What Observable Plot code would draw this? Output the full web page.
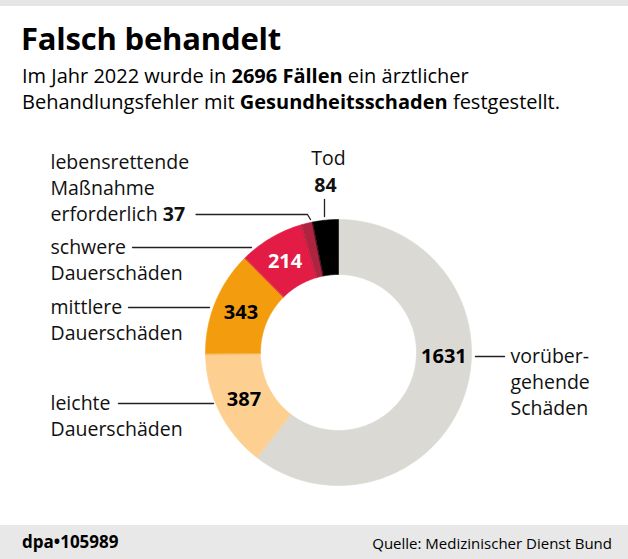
<!DOCTYPE html>
<html><head><meta charset="utf-8">
<script src="https://cdn.jsdelivr.net/npm/d3@7"></script>
<script src="https://cdn.jsdelivr.net/npm/@observablehq/plot@0.6"></script>
<style>
body{margin:0;width:628px;height:559px;overflow:hidden;background:#fff;font-family:"Open Sans",sans-serif;color:#000;position:relative}
#topbar{position:absolute;left:0;top:0;width:628px;height:6px;background:#e6e6e6}
#title{position:absolute;left:21px;top:18px;font-size:31px;font-weight:700;line-height:40px;white-space:nowrap;letter-spacing:-0.2px}
#subtitle{position:absolute;left:22px;top:63px;font-size:20px;line-height:26px;white-space:nowrap}
#chart{position:absolute;left:0;top:128px}
#footer{position:absolute;left:0;top:525px;width:628px;height:34px;background:#e8e8e8}
#dpa{position:absolute;left:22px;top:6px;font-size:17px;font-weight:700;line-height:22px}
#source{position:absolute;right:16px;top:7px;font-size:15px;line-height:22px}
</style></head><body>
<div id="topbar"></div>
<div id="title">Falsch behandelt</div>
<div id="subtitle">Im Jahr 2022 wurde in <b>2696 Fällen</b> ein ärztlicher<br>Behandlungsfehler mit <b>Gesundheitsschaden</b> festgestellt.</div>
<div id="chart"></div>
<div id="footer"><div id="dpa">dpa•105989</div><div id="source">Quelle: Medizinischer Dienst Bund</div></div>
<script>
// ---- data ----
const categories = ["vorübergehende Schäden", "leichte Dauerschäden", "mittlere Dauerschäden", "schwere Dauerschäden", "lebensrettende Maßnahme erforderlich", "Tod"];
const values = [1631, 387, 343, 214, 37, 84];
const colors = ["#dad9d4", "#fdd092", "#f39c0e", "#e31c45", "#ad2340", "#000000"];
const labelLines = [["vorüber-", "gehende", "Schäden"], ["leichte", "Dauerschäden"], ["mittlere", "Dauerschäden"], ["schwere", "Dauerschäden"], ["lebensrettende", "Maßnahme", "erforderlich"], ["Tod"]];
const insideLabel = [true, true, true, true, false, false];

// ---- layout (page coordinates) ----
const W = 628, H = 396, TOP = 128;
const CX = 338, CY = 352, R_OUT = 133, R_IN = 78;
const FONT = "'Open Sans', sans-serif";
const LABEL_SIZE = 19.5;
const px = (x) => x - CX, py = (y) => y - CY;

const total = d3.sum(values);
let acc = 0;
const segments = values.map((v, i) => {
  const a0 = acc / total * 360; acc += v; const a1 = acc / total * 360;
  return {cat: categories[i], value: v, a0, a1, i};
});
const rad = (a) => a * Math.PI / 180;
const pt = (r, a) => [r * Math.sin(rad(a)), -r * Math.cos(rad(a))];

const ring = segments.flatMap(s => {
  const n = Math.max(2, Math.ceil(s.a1 - s.a0));
  const out = [];
  for (let k = 0; k <= n; k++) { const [x, y] = pt(R_OUT, s.a0 + (s.a1 - s.a0) * k / n); out.push({cat: s.cat, x, y}); }
  for (let k = n; k >= 0; k--) { const [x, y] = pt(R_IN, s.a0 + (s.a1 - s.a0) * k / n); out.push({cat: s.cat, x, y}); }
  return out;
});

// value labels inside ring (first one placed at the right side, next to its leader)
const valueText = segments.filter(s => insideLabel[s.i]).map(s => {
  const a = s.i === 0 ? 92 : (s.a0 + s.a1) / 2;
  const [x, y] = pt((R_OUT + R_IN) / 2, a);
  return {x, y, text: String(s.value), fill: s.i === 3 ? "#fff" : "#000"};
});

// category label text anchors (page coords)
const labelPos = [
  {x: 510, y: 356}, {x: 50, y: 403}, {x: 50, y: 307}, {x: 50, y: 247}, {x: 50, y: 162}, {x: 328, y: 158.5}
];
const LH = 26;
const catText = labelLines.flatMap((lines, i) => lines.map((t, k) => ({
  x: px(labelPos[i].x), y: py(labelPos[i].y + k * LH), text: t, anchor: i === 5 ? "middle" : "start"
})));

// measure "erforderlich " to place the bold value after it
const ctx = document.createElement("canvas").getContext("2d");
ctx.font = `${LABEL_SIZE}px "Open Sans"`;
const wErf = ctx.measureText(labelLines[4][2] + " ").width;
const boldStart = [{x: px(50 + wErf), y: py(162 + 2 * LH), text: String(values[4])}];
const boldMid = [{x: px(325), y: py(185.5), text: String(values[5])}];
const leadStart = 50 + wErf + 2 + (() => { ctx.font = `700 ${LABEL_SIZE}px "Open Sans"`; return ctx.measureText(String(values[4])).width; })() + 9;

const leaders = [
  {id: 0, pts: [[475, 356], [504, 356]]},
  {id: 1, pts: [[118, 403], [213, 403]]},
  {id: 2, pts: [[128, 307], [209, 307]]},
  {id: 3, pts: [[132, 247], [251, 247]]},
  {id: 4, pts: [[leadStart, 214], [307, 214], [310, 219]]},
  {id: 5, pts: [[324, 199], [324, 216]]}
].flatMap(l => l.pts.map(([x, y]) => ({id: l.id, x: px(x), y: py(y)})));

const chart = Plot.plot({
  width: W, height: H, margin: 0,
  x: {domain: [-CX, W - CX], range: [0, W], axis: null},
  y: {domain: [TOP - CY, TOP + H - CY], range: [0, H], axis: null},
  color: {domain: categories, range: colors},
  style: {fontFamily: FONT, background: "transparent", overflow: "visible"},
  marks: [
    Plot.line(ring, {x: "x", y: "y", z: "cat", fill: "cat", stroke: "cat", strokeWidth: 0.6, curve: "linear-closed"}),
    Plot.line(leaders, {x: "x", y: "y", z: "id", stroke: "#222", strokeWidth: 1.3, curve: "linear"}),
    Plot.text(catText.filter(d => d.anchor === "start"), {x: "x", y: "y", text: "text", textAnchor: "start", fontSize: LABEL_SIZE, fill: "#111", lineAnchor: "middle"}),
    Plot.text(catText.filter(d => d.anchor === "middle"), {x: "x", y: "y", text: "text", textAnchor: "middle", fontSize: LABEL_SIZE, fill: "#111", lineAnchor: "middle"}),
    Plot.text(boldStart, {x: "x", y: "y", text: "text", textAnchor: "start", fontSize: LABEL_SIZE, fontWeight: 700, fill: "#111", lineAnchor: "middle"}),
    Plot.text(boldMid, {x: "x", y: "y", text: "text", textAnchor: "middle", fontSize: LABEL_SIZE, fontWeight: 700, fill: "#111", lineAnchor: "middle"}),
    Plot.text(valueText, {x: "x", y: "y", text: "text", fill: d => d.fill, fontSize: 20, fontWeight: 700, lineAnchor: "middle"})
  ]
});
document.getElementById("chart").appendChild(chart);
</script>
</body></html>
